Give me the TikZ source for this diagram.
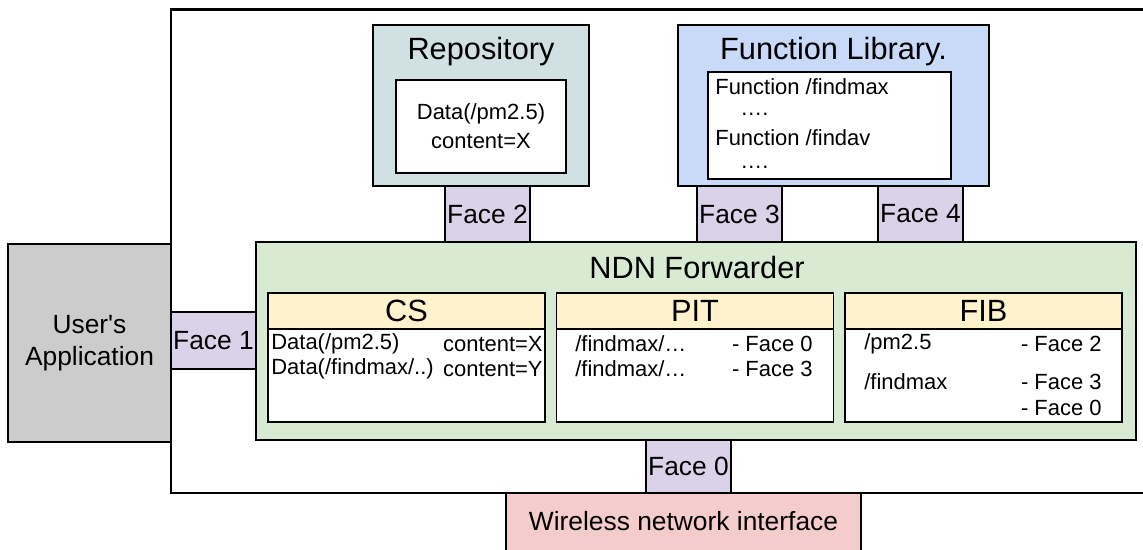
\documentclass[tikz,border=0pt]{standalone}
\usepackage{fontspec}
\setmainfont{Liberation Sans}
\usetikzlibrary{positioning}

\definecolor{appgray}{HTML}{CCCCCC}
\definecolor{fwdgreen}{HTML}{D9EAD3}
\definecolor{headyellow}{HTML}{FFF2CC}
\definecolor{repoteal}{HTML}{D0E0E3}
\definecolor{libblue}{HTML}{C9DAF8}
\definecolor{facepurple}{HTML}{D9D2E9}
\definecolor{wifipink}{HTML}{F4CCCC}

\begin{document}
\begin{tikzpicture}[
                    node distance=0pt,
                    every node/.style={font=\fontsize{15}{18}\selectfont},
                    box/.style={draw, rectangle, line width=0.7pt, inner sep=0pt},
                    facebox/.style={box, fill=facepurple, minimum width=1.7cm, minimum height=1.12cm},
                    tablebox/.style={box, fill=white, minimum width=5.54cm, minimum height=2.58cm},
                    tablehead/.style={box, fill=headyellow, minimum width=5.54cm, minimum height=0.72cm, font=\fontsize{17.5}{20}\selectfont},
                    title/.style={inner sep=0pt, font=\fontsize{17.5}{20}\selectfont},
                    entry/.style={inner sep=0pt, font=\fontsize{12.5}{15}\selectfont}
                    ]
    \useasboundingbox (0,0) rectangle (22.86,11);

    % device frame
    \draw[line width=1.7pt] (3.42,10.8) rectangle (23.4,1.14);

    \node [box, fill=appgray, minimum width=3.26cm, minimum height=3.96cm, align=center] (app) at (1.79,4.14) {User\textquotesingle s\\Application};
    \node [box, fill=fwdgreen, minimum width=17.6cm, minimum height=3.96cm] (fwd) at (13.92,4.18) {};
    \node [title] (fwdtitle) at (13.94,5.64) {NDN Forwarder};
    \node [facebox, minimum height=1.14cm] (face1) at (4.27,4.19) {Face 1};

    % tables
    \node [tablebox] (cs) at (8.13,3.85) {};
    \node [tablehead, anchor=north] (cshead) at (cs.north) {CS};
    \node [tablebox] (pit) at (13.90,3.85) {};
    \node [tablehead, anchor=north] (pithead) at (pit.north) {PIT};
    \node [tablebox] (fib) at (19.67,3.85) {};
    \node [tablehead, anchor=north] (fibhead) at (fib.north) {FIB};

    \node [entry, anchor=west] (cs1) at (5.42,4.12) {Data(/pm2.5)};
    \node [entry, anchor=east] (cs1c) at (10.86,4.12) {content=X};
    \node [entry, anchor=west] (cs2) at (5.42,3.62) {Data(/findmax/..)};
    \node [entry, anchor=east] (cs2c) at (10.86,3.62) {content=Y};

    \node [entry, anchor=west] (pit1) at (11.5,4.12) {/findmax/…};
    \node [entry, anchor=east] (pit1f) at (16.26,4.12) {- Face 0};
    \node [entry, anchor=west] (pit2) at (11.5,3.62) {/findmax/…};
    \node [entry, anchor=east] (pit2f) at (16.26,3.62) {- Face 3};

    \node [entry, anchor=west] (fib1) at (17.28,4.12) {/pm2.5};
    \node [entry, anchor=east] (fib1f) at (22.04,4.12) {- Face 2};
    \node [entry, anchor=west] (fib2) at (17.28,3.36) {/findmax};
    \node [entry, anchor=east] (fib2f) at (22.04,3.36) {- Face 3};
    \node [entry, anchor=east] (fib3f) at (22.04,2.84) {- Face 0};

    % network side
    \node [facebox, minimum height=1.06cm] (face0) at (13.77,1.67) {Face 0};
    \node [box, fill=wifipink, minimum width=7.1cm, minimum height=1.54cm,
           label={[yshift=0.2cm, inner sep=0pt]center:Wireless network interface}] (wifi) at (13.67,0.37) {};

    % repository
    \node [box, fill=repoteal, minimum width=4.32cm, minimum height=3.22cm] (repo) at (9.62,8.89) {};
    \node [title] (repotitle) at (9.62,9.96) {Repository};
    \node [box, fill=white, minimum width=3.4cm, minimum height=1.86cm, align=center, font=\fontsize{12.5}{15}\selectfont] (repodata) at (9.62,8.47) {Data(/pm2.5)\\[0.05cm]content=X};
    \node [facebox] (face2) at (9.75,6.72) {Face 2};

    % function library
    \node [box, fill=libblue, minimum width=6.22cm, minimum height=3.22cm] (lib) at (16.67,8.89) {};
    \node [title] (libtitle) at (16.67,9.96) {Function Library.};
    \node [box, fill=white, minimum width=4.86cm, minimum height=2.14cm] (libdata) at (16.59,8.49) {};
    \node [entry, anchor=west] (fn1) at (14.3,9.26) {Function /findmax};
    \node [entry, anchor=west] (dots1) at (14.8,8.72) {….};
    \node [entry, anchor=west] (fn2) at (14.3,8.24) {Function /findav};
    \node [entry, anchor=west] (dots2) at (14.8,7.66) {….};
    \node [facebox] (face3) at (14.79,6.72) {Face 3};
    \node [facebox] (face4) at (18.41,6.72) {Face 4};
\end{tikzpicture}
\end{document}
